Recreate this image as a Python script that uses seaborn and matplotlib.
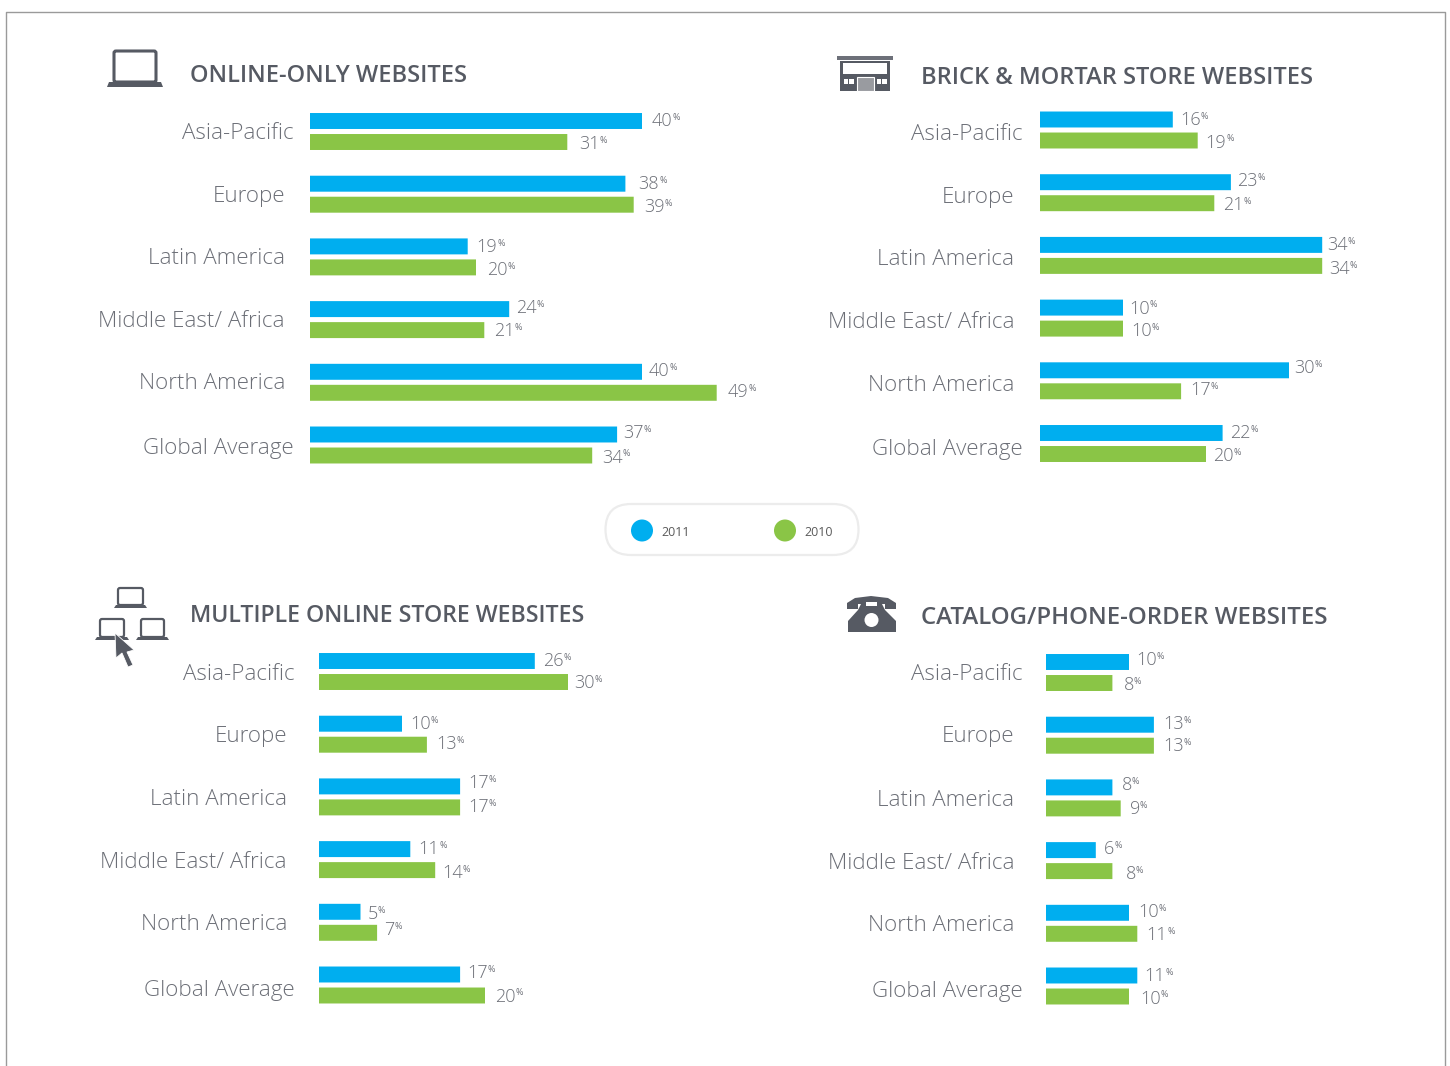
import pandas as pd
import matplotlib.pyplot as plt
import seaborn as sns
from matplotlib.patches import Circle, FancyBboxPatch, Polygon, Rectangle
from matplotlib.transforms import ScaledTranslation

W, H = 1450, 1066
BLUE = '#00aeef'
GREEN = '#8ac546'
DARK = '#565a63'
GREY = '#6c6f77'

regions = ['Asia-Pacific', 'Europe', 'Latin America', 'Middle East/ Africa', 'North America', 'Global Average']
years = ['2011', '2010']

online_2011 = [40, 38, 19, 24, 40, 37]
online_2010 = [31, 39, 20, 21, 49, 34]
brick_2011 = [16, 23, 34, 10, 30, 22]
brick_2010 = [19, 21, 34, 10, 17, 20]
multi_2011 = [26, 10, 17, 11, 5, 17]
multi_2010 = [30, 13, 17, 14, 7, 20]
catalog_2011 = [10, 13, 8, 6, 10, 11]
catalog_2010 = [8, 13, 9, 8, 11, 10]

PX_PER_PCT = 8.3
PITCH = 62.7

# each panel: title, values, bar start, first row centre, title pos, right ends of the region labels,
# then the hand-read nudges of the region labels and value labels (dx, dy per bar, 2011 then 2010)
panels = [
    dict(title='ONLINE-ONLY WEBSITES', v11=online_2011, v10=online_2010, x0=310, y0=131.5,
         tx=190, ty=76.5, tsize=17, ends=[294, 285, 285, 285, 285, 294], ldy=[0, 0, -1, -1, -1, 1.5],
         dx11=[11, 14, 10, 8, 8, 7], dy11=[-1, -1, 0, -2, -2, -2],
         dx10=[13, 11, 12, 11, 12, 11], dy10=[1, 1, 2, 0, -2, 1]),
    dict(title='BRICK & MORTAR STORE WEBSITES', v11=brick_2011, v10=brick_2010, x0=1040, y0=130,
         tx=921, ty=77.5, tsize=17, ends=[1023, 1014, 1014, 1014, 1014, 1023], ldy=[2, 2, 1.5, 1.5, 2.5, 3.5],
         dx11=[8, 7, 6, 7, 6, 8], dy11=[0, -2, -1, 0, -3, -1],
         dx10=[9, 10, 8, 9, 10, 8], dy10=[1, 1, 2, 1, -2, 1]),
    dict(title='MULTIPLE ONLINE STORE WEBSITES', v11=multi_2011, v10=multi_2010, x0=319, y0=671.5,
         tx=190, ty=616.5, tsize=16.7, ends=[295, 287, 287, 287, 287, 295], ldy=[0, 0, 0, 0, 0, 3],
         dx11=[9, 9, 9, 9, 8, 8], dy11=[-1, -1, -4, -1, 1, -2],
         dx10=[7, 10, 9, 8, 8, 11], dy10=[0, -2, -1, 2, -4, 0]),
    dict(title='CATALOG/PHONE-ORDER WEBSITES', v11=catalog_2011, v10=catalog_2010, x0=1046, y0=672.5,
         tx=921, ty=617.5, tsize=17.25, ends=[1023, 1014, 1014, 1014, 1014, 1023], ldy=[-1, -1, 0, 0, 0, 3],
         dx11=[8, 10, 10, 9, 10, 8], dy11=[-3, -2, -3, -2, -2, 0],
         dx10=[12, 10, 10, 14, 10, 12], dy10=[1, -1, 0, 2, 0, 1]),
]

sns.set_theme(style='white')
plt.rcParams['font.family'] = ['Open Sans', 'DejaVu Sans']

fig = plt.figure(figsize=(W / 100, H / 100), dpi=100)

# overlay in pixel coordinates for the frame, icons and the legend pill
bg = fig.add_axes([0, 0, 1, 1])
bg.set_xlim(0, W)
bg.set_ylim(H, 0)
bg.axis('off')


def draw_laptop(x1, y1, x2, y2, over, base_h, lw):
    bg.add_patch(FancyBboxPatch((x1 + 1, y1 + 1), x2 - x1 - 2, y2 - y1 - 1, boxstyle='round,pad=0,rounding_size=2',
                                fc='white', ec=DARK, lw=lw))
    bg.add_patch(Polygon([(x1 - over + 2, y2), (x2 + over - 2, y2), (x2 + over, y2 + base_h), (x1 - over, y2 + base_h)],
                         fc=DARK, ec='none'))


# frame, open at the bottom
bg.plot([6.5, 6.5, 1445.5, 1445.5], [1066, 12, 12, 1066], color='#9a9a9a', lw=1)

draw_laptop(113, 50, 157, 82, 6, 5, 2.2)

# store
bg.add_patch(Rectangle((837, 56), 56, 3.5, fc='#6d7079', ec='none'))
bg.add_patch(Rectangle((840, 61), 50, 30, fc=DARK, ec='none'))
bg.add_patch(Rectangle((843, 63), 44, 11, fc='white', ec='none'))
bg.add_patch(Rectangle((857, 77), 17, 14, fc='#999ba0', ec='white', lw=0.8))
for wx in (844, 877):
    bg.add_patch(Rectangle((wx, 79), 4.5, 5, fc='white', ec='none'))
    bg.add_patch(Rectangle((wx + 5.5, 79), 4.5, 5, fc='white', ec='none'))

# three laptops and the cursor
draw_laptop(117, 587, 144, 605, 3, 3, 1.6)
draw_laptop(99, 618, 125, 637, 4, 3, 1.6)
draw_laptop(140, 618, 165, 637, 4, 3, 1.6)
bg.add_patch(Polygon([(115, 633), (116, 658), (122, 653), (128, 667), (133, 665), (127, 652), (134, 650)],
                     fc=DARK, ec='white', lw=0.6, zorder=5))

# telephone
bg.add_patch(Polygon([(847, 609), (847, 603), (855, 598), (871, 596), (888, 598), (896, 603), (896, 609),
                      (885, 609), (885, 604), (858, 604), (858, 609)], fc=DARK, ec='none'))
bg.add_patch(Polygon([(861, 604), (882, 604), (885, 610), (896, 621), (896, 632), (848, 632), (848, 621), (858, 610)],
                     fc=DARK, ec='none'))
bg.add_patch(Rectangle((866, 602), 11, 4, fc='white', ec='none'))
bg.add_patch(Circle((871.5, 620), 7, fc='white', ec='none'))

# legend pill
bg.add_patch(FancyBboxPatch((605.5, 504), 253, 51, boxstyle='round,pad=0,rounding_size=25.5',
                            fc='white', ec='#ececec', lw=1.6))
for cx, col, lab, lx in [(642, BLUE, years[0], 661), (785, GREEN, years[1], 804)]:
    bg.add_patch(Circle((cx, 530.5), 11, fc=col, ec='none'))
    bg.text(lx, 532, lab, fontsize=8.9, color='#5a5a5a', va='center', ha='left')

for p in panels:
    df = pd.DataFrame({
        'region': regions * 2,
        'year': [years[0]] * 6 + [years[1]] * 6,
        'share': p['v11'] + p['v10'],
    })
    top = p['y0'] - PITCH / 2
    ax = fig.add_axes([p['x0'] / W, 1 - (top + 6 * PITCH) / H, 60 * PX_PER_PCT / W, 6 * PITCH / H])
    ax.patch.set_alpha(0)
    sns.barplot(data=df, y='region', x='share', hue='year', order=regions, hue_order=years,
                palette=[BLUE, GREEN], width=0.67, gap=0.24, saturation=1, legend=False, ax=ax)
    for bar in ax.patches:
        bar.set_snap(False)
        bar.set_linewidth(0)
    ax.set_xlim(0, 60)
    ax.set_ylim(5.5, -0.5)
    ax.set_xlabel('')
    ax.set_ylabel('')
    ax.set_xticks([])
    sns.despine(ax=ax, left=True, bottom=True)
    ax.tick_params(axis='y', length=0, labelsize=16.1, labelcolor=GREY)
    for tick, end, ldy in zip(ax.yaxis.get_major_ticks(), p['ends'], p['ldy']):
        tick.set_pad((p['x0'] - end) * 0.72)
        tick.label1.set_fontweight('light')
        tick.label1.set_transform(tick.label1.get_transform() + ScaledTranslation(0, -ldy / 100, fig.dpi_scale_trans))

    for i in range(6):
        for vals, dxs, dys, off in [(p['v11'], p['dx11'], p['dy11'], -0.1675), (p['v10'], p['dx10'], p['dy10'], 0.1675)]:
            num = ax.annotate(str(vals[i]), xy=(vals[i], i + off), xytext=((dxs[i] - 1) * 0.72, -(dys[i] + 1) * 0.72),
                              textcoords='offset points', fontsize=13, color=GREY, fontweight='light',
                              ha='left', va='center')
            ax.annotate('%', xy=(1, 0.95), xycoords=num, xytext=(0, 0), textcoords='offset points',
                        fontsize=6.5, color=GREY, ha='left', va='top')

    bg.text(p['tx'], p['ty'], p['title'], fontsize=p['tsize'], color=DARK, fontweight='semibold', va='center', ha='left')

fig.savefig('out.png', dpi=100)
